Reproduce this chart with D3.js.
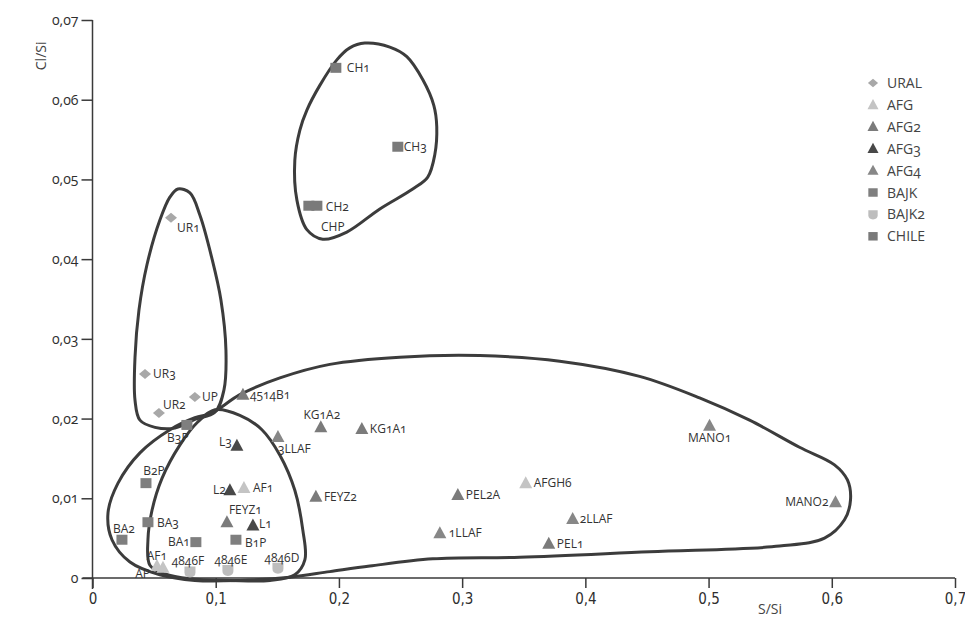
<!DOCTYPE html>
<html>
<head>
<meta charset="utf-8">
<script src="https://cdn.jsdelivr.net/npm/d3@7"></script>
<style>
  html, body { margin: 0; padding: 0; background: #fff; }
  svg text { font-family: "Open Sans", "Lato", sans-serif; font-variant-numeric: oldstyle-nums; }
</style>
</head>
<body>
<svg id="chart" width="965" height="626"></svg>
<script>
// ---- data: S/Si (x) and Cl/Si (y) per sample, grouped by series ----
const seriesNames = ["URAL", "AFG", "AFG2", "AFG3", "AFG4", "BAJK", "BAJK2", "CHILE"];

const uralLabels = ["UR1", "UR3", "UR2", "UP"];
const uralX = [0.0637, 0.0426, 0.0539, 0.0831];
const uralY = [0.0452, 0.0256, 0.0207, 0.0227];

const afgLabels = ["AF1", "AFGH6", "AF1", "AP"];
const afgX = [0.1229, 0.3516, 0.0523, 0.0572];
const afgY = [0.0113, 0.0119, 0.0015, 0.0013];

const afg2Labels = ["4514B1", "KG1A2", "KG1A1", "FEYZ1", "FEYZ2", "PEL2A", "PEL1"];
const afg2X = [0.1221, 0.1853, 0.2186, 0.1091, 0.1813, 0.2965, 0.3703];
const afg2Y = [0.0230, 0.0189, 0.0187, 0.0070, 0.0102, 0.0104, 0.0043];

const afg3Labels = ["L3", "L2", "L1"];
const afg3X = [0.1172, 0.1115, 0.1302];
const afg3Y = [0.0166, 0.0110, 0.0066];

const afg4Labels = ["3LLAF", "1LLAF", "2LLAF", "MANO1", "MANO2"];
const afg4X = [0.1505, 0.2819, 0.3897, 0.5008, 0.6030];
const afg4Y = [0.0177, 0.0056, 0.0074, 0.0191, 0.0095];

const bajkLabels = ["B3P", "B2P", "BA3", "BA2", "BA1", "B1P"];
const bajkX = [0.0766, 0.0434, 0.0450, 0.0239, 0.0839, 0.1164];
const bajkY = [0.0192, 0.0119, 0.0070, 0.0048, 0.0045, 0.0048];

const bajk2Labels = ["4846F", "4846E", "4846D"];
const bajk2X = [0.0791, 0.1099, 0.1505];
const bajk2Y = [0.0008, 0.0010, 0.0013];

const chileLabels = ["CH1", "CH3", "CH2", "CHP"];
const chileX = [0.1975, 0.2478, 0.1821, 0.1756];
const chileY = [0.0640, 0.0541, 0.0467, 0.0467];

const xTicks = [0, 0.1, 0.2, 0.3, 0.4, 0.5, 0.6, 0.7];
const yTicks = [0, 0.01, 0.02, 0.03, 0.04, 0.05, 0.06, 0.07];

// hand-drawn group outlines, in data units [S/Si, Cl/Si]
const chileOutline = [
  [0.2210, 0.0671], [0.2413, 0.0666], [0.2551, 0.0654], [0.2681, 0.0625], [0.2770, 0.0593],
  [0.2794, 0.0566], [0.2778, 0.0531], [0.2721, 0.0503], [0.2599, 0.0488], [0.2332, 0.0463],
  [0.2064, 0.0434], [0.1869, 0.0425], [0.1740, 0.0437], [0.1659, 0.0474], [0.1642, 0.0524],
  [0.1683, 0.0562], [0.1740, 0.0587], [0.1845, 0.0618], [0.1983, 0.0650], [0.2088, 0.0665]
];
const uralOutline = [
  [0.0693, 0.0488], [0.0791, 0.0483], [0.0872, 0.0455], [0.0969, 0.0401], [0.1042, 0.0349],
  [0.1083, 0.0286], [0.1067, 0.0236], [0.0994, 0.0208], [0.0831, 0.0199], [0.0669, 0.0188],
  [0.0507, 0.0189], [0.0385, 0.0198], [0.0345, 0.0223], [0.0345, 0.0277], [0.0377, 0.0336],
  [0.0442, 0.0393], [0.0547, 0.0449], [0.0629, 0.0478]
];
const innerOutline = [
  [0.0994, 0.0211], [0.1196, 0.0204], [0.1375, 0.0186], [0.1521, 0.0154], [0.1642, 0.0110],
  [0.1707, 0.0060], [0.1724, 0.0023], [0.1642, 0.0004], [0.1440, -0.0003], [0.1115, -0.0003],
  [0.0791, -0.0001], [0.0588, 0.0005], [0.0466, 0.0016], [0.0450, 0.0048], [0.0483, 0.0085],
  [0.0564, 0.0125], [0.0710, 0.0167], [0.0856, 0.0196]
];
const mainOutline = [
  [0.0969, 0.0207], [0.1196, 0.0230], [0.1521, 0.0251], [0.1926, 0.0268], [0.2494, 0.0277],
  [0.3143, 0.0279], [0.3792, 0.0272], [0.4440, 0.0253], [0.4927, 0.0226], [0.5333, 0.0198],
  [0.5738, 0.0164], [0.6022, 0.0142], [0.6127, 0.0123], [0.6152, 0.0098], [0.6103, 0.0073],
  [0.5941, 0.0050], [0.5576, 0.0040], [0.4522, 0.0033], [0.3467, 0.0026], [0.2762, 0.0024],
  [0.2251, 0.0015], [0.1926, 0.0008], [0.1602, 0.0001], [0.1196, -0.0003], [0.0831, -0.0003],
  [0.0547, 0.0004], [0.0304, 0.0020], [0.0158, 0.0048], [0.0126, 0.0082], [0.0207, 0.0119],
  [0.0385, 0.0157], [0.0629, 0.0186], [0.0831, 0.0201]
];

// ---- presentation ----
const seriesStyle = {
  URAL:  { shape: "diamond",  fill: "#a8a8a8" },
  AFG:   { shape: "triangle", fill: "#c4c4c4" },
  AFG2:  { shape: "triangle", fill: "#7b7b7b" },
  AFG3:  { shape: "triangle", fill: "#484848" },
  AFG4:  { shape: "triangle", fill: "#878787" },
  BAJK:  { shape: "square",   fill: "#7f7f7f" },
  BAJK2: { shape: "shield",   fill: "#bdbdbd" },
  CHILE: { shape: "square",   fill: "#7a7a7a" }
};

// where each point's label sits relative to its marker: [anchor, dx, dy]
const labelLayout = {
  "URAL:UR1": ["start", 6, 14], "URAL:UR3": ["start", 8, 4], "URAL:UR2": ["start", 4, -4],
  "URAL:UP": ["start", 7, 4],
  "AFG:AF1#0": ["start", 9, 4], "AFG:AFGH6": ["start", 8, 4], "AFG:AF1#2": ["middle", 0, -6],
  "AFG:AP": ["end", -13, 10],
  "AFG2:4514B1": ["start", 7, 4], "AFG2:KG1A2": ["middle", 1, -8], "AFG2:KG1A1": ["start", 8, 4],
  "AFG2:FEYZ1": ["start", 2, -8], "AFG2:FEYZ2": ["start", 8, 4], "AFG2:PEL2A": ["start", 8, 4],
  "AFG2:PEL1": ["start", 8, 4],
  "AFG3:L3": ["end", -5, 0], "AFG3:L2": ["end", -4, 4], "AFG3:L1": ["start", 6, 3],
  "AFG4:3LLAF": ["start", 0, 16], "AFG4:1LLAF": ["start", 9, 4], "AFG4:2LLAF": ["start", 7, 4],
  "AFG4:MANO1": ["middle", 0, 16], "AFG4:MANO2": ["end", -7, 4],
  "BAJK:B3P": ["middle", -9, 17], "BAJK:B2P": ["middle", 8, -8], "BAJK:BA3": ["start", 9, 5],
  "BAJK:BA2": ["middle", 2, -7], "BAJK:BA1": ["end", -6, 4], "BAJK:B1P": ["start", 9, 7],
  "BAJK2:4846F": ["middle", -2, -7], "BAJK2:4846E": ["middle", 3, -6], "BAJK2:4846D": ["middle", 4, -6],
  "CHILE:CH1": ["start", 11, 4], "CHILE:CH3": ["start", 6, 4], "CHILE:CH2": ["start", 9, 5],
  "CHILE:CHP": ["middle", 24, 25]
};

function shapePath(shape, s = 1) {
  switch (shape) {
    case "diamond":  return `M0,${-5*s}L${6*s},0L0,${5*s}L${-6*s},0Z`;
    case "triangle": return `M0,${-7*s}L${6.5*s},${5*s}L${-6.5*s},${5*s}Z`;
    case "square":   return `M${-5.5*s},${-5*s}H${5.5*s}V${5*s}H${-5.5*s}Z`;
    case "shield":   return `M${-5.5*s},${-5*s}H${5.5*s}V${1*s}Q${5.5*s},${5.5*s} 0,${6*s}Q${-5.5*s},${5.5*s} ${-5.5*s},${1*s}Z`;
  }
}

const groups = {
  URAL:  [uralLabels, uralX, uralY],
  AFG:   [afgLabels, afgX, afgY],
  AFG2:  [afg2Labels, afg2X, afg2Y],
  AFG3:  [afg3Labels, afg3X, afg3Y],
  AFG4:  [afg4Labels, afg4X, afg4Y],
  BAJK:  [bajkLabels, bajkX, bajkY],
  BAJK2: [bajk2Labels, bajk2X, bajk2Y],
  CHILE: [chileLabels, chileX, chileY]
};

const points = [];
seriesNames.forEach(name => {
  const [labels, xs, ys] = groups[name];
  labels.forEach((lab, i) => {
    let key = `${name}:${lab}`;
    if (!(key in labelLayout)) key = `${name}:${lab}#${i}`;
    points.push({ series: name, label: lab, x: xs[i], y: ys[i], key });
  });
});

// ---- scales & axes ----
const svg = d3.select("#chart");
const x = d3.scaleLinear().domain([0, 0.7]).range([92.5, 955]);
const y = d3.scaleLinear().domain([0, 0.07]).range([578, 20]);

const commaFmt = (digits) => d => d === 0 ? "0" : d3.format(`.${digits}f`)(d).replace(".", ",");

const axisColor = "#3a3a3a";

const xAxis = svg.append("g")
  .attr("transform", `translate(0,${y(0)})`)
  .call(d3.axisBottom(x).tickValues(xTicks).tickFormat(commaFmt(1)).tickSize(10).tickPadding(5));
xAxis.select(".domain").attr("stroke", axisColor).attr("stroke-width", 1.5).attr("d", `M${x(0) - 10},0H${x(0.7)}`);
xAxis.selectAll(".tick line").attr("stroke", axisColor).attr("stroke-width", 1.5);
xAxis.selectAll(".tick text")
  .attr("fill", "#2e2e2e")
  .style("font-family", "'Liberation Sans Narrow', 'DejaVu Sans Condensed', sans-serif")
  .style("font-size", "15px");

const yAxis = svg.append("g")
  .attr("transform", `translate(${x(0)},0)`)
  .call(d3.axisLeft(y).tickValues(yTicks).tickFormat(commaFmt(2)).tickSize(11).tickPadding(3));
yAxis.select(".domain").attr("stroke", axisColor).attr("stroke-width", 1.5).attr("d", `M0,${y(0) + 11}V${y(0.07)}`);
yAxis.selectAll(".tick line").attr("stroke", axisColor).attr("stroke-width", 1.5);
yAxis.selectAll(".tick text").attr("fill", "#2e2e2e").style("font-size", "14px");

svg.append("text")
  .attr("transform", `translate(46,${y(0.0655)}) rotate(-90)`)
  .attr("text-anchor", "middle")
  .attr("fill", "#444")
  .style("font-size", "14px")
  .text("Cl/Si");

svg.append("text")
  .attr("x", 770).attr("y", 614)
  .attr("text-anchor", "middle")
  .attr("fill", "#444")
  .style("font-size", "14px")
  .text("S/Si");

// ---- group outlines ----
const outline = d3.line()
  .x(d => x(d[0])).y(d => y(d[1]))
  .curve(d3.curveCatmullRomClosed.alpha(0.5));

svg.append("g").selectAll("path")
  .data([mainOutline, innerOutline, uralOutline, chileOutline])
  .join("path")
  .attr("d", outline)
  .attr("fill", "none")
  .attr("stroke", "#3c3c3c")
  .attr("stroke-width", 3);

// ---- markers ----
svg.append("g").selectAll("path")
  .data(points)
  .join("path")
  .attr("transform", d => `translate(${x(d.x)},${y(d.y)})`)
  .attr("d", d => shapePath(seriesStyle[d.series].shape))
  .attr("fill", d => seriesStyle[d.series].fill);

// ---- point labels ----
svg.append("g").selectAll("text")
  .data(points)
  .join("text")
  .each(function (d) {
    const [anchor, dx, dy] = labelLayout[d.key] || ["start", 7, 4];
    d3.select(this)
      .attr("x", x(d.x) + dx)
      .attr("y", y(d.y) + dy)
      .attr("text-anchor", anchor);
  })
  .attr("fill", "#333")
  .style("font-size", "12px")
  .text(d => d.label);

// ---- legend ----
const legend = svg.append("g").attr("transform", "translate(873,83)");
const rows = legend.selectAll("g")
  .data(seriesNames)
  .join("g")
  .attr("transform", (d, i) => `translate(0,${i * 21.9})`);
rows.append("path")
  .attr("d", d => shapePath(seriesStyle[d].shape, 0.85))
  .attr("fill", d => seriesStyle[d].fill);
rows.append("text")
  .attr("x", 14).attr("y", 5)
  .attr("fill", "#444")
  .style("font-size", "14px")
  .text(d => d);
</script>
</body>
</html>
